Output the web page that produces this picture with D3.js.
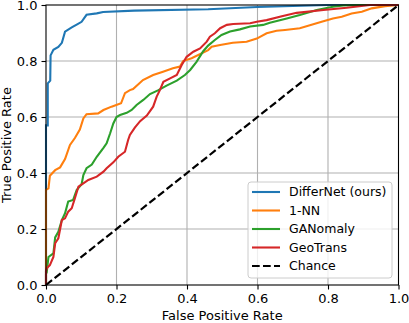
<!DOCTYPE html>
<html>
<head>
<meta charset="utf-8">
<script src="https://cdn.jsdelivr.net/npm/d3@7"></script>
<style>
body { margin: 0; background: white; }
text { font-family: "DejaVu Sans", sans-serif; }
</style>
</head>
<body>
<svg id="svg_roc" width="409" height="323"></svg>
<script>
// ROC points as [fpr, tpr]
var differnet = [[0,0],[0,0.57],[0.005,0.57],[0.005,0.72],[0.012,0.73],[0.013,0.82],[0.021,0.84],
	[0.035,0.85],[0.045,0.865],[0.054,0.905],[0.073,0.92],[0.087,0.93],[0.101,0.94],[0.115,0.965],
	[0.144,0.97],[0.162,0.975],[0.25,0.98],[0.46,0.985],[0.6,0.993],[0.8,1],[1,1]];

var oneNN = [[0,0],[0,0.34],[0.007,0.345],[0.011,0.39],[0.026,0.41],[0.04,0.42],[0.054,0.45],
	[0.068,0.5],[0.082,0.525],[0.096,0.555],[0.106,0.595],[0.115,0.61],[0.148,0.613],[0.163,0.625],
	[0.186,0.637],[0.213,0.649],[0.224,0.685],[0.238,0.696],[0.247,0.7],[0.275,0.732],[0.304,0.75],
	[0.332,0.762],[0.36,0.774],[0.38,0.78],[0.389,0.8],[0.413,0.81],[0.46,0.839],[0.47,0.851],
	[0.494,0.857],[0.53,0.865],[0.569,0.869],[0.598,0.88],[0.626,0.899],[0.654,0.908],[0.678,0.911],
	[0.72,0.917],[0.782,0.94],[0.814,0.952],[0.839,0.958],[0.867,0.97],[0.896,0.976],[0.924,0.988],
	[0.962,0.996],[1,1]];

var ganomaly = [[0,0],[0,0.04],[0.002,0.045],[0.007,0.1],[0.021,0.113],[0.026,0.17],[0.035,0.19],
	[0.045,0.232],[0.054,0.256],[0.063,0.298],[0.077,0.304],[0.087,0.339],[0.101,0.36],[0.106,0.393],
	[0.115,0.417],[0.13,0.43],[0.144,0.458],[0.163,0.49],[0.172,0.506],[0.182,0.542],[0.191,0.577],
	[0.2,0.6],[0.21,0.607],[0.229,0.615],[0.243,0.625],[0.257,0.643],[0.276,0.661],[0.295,0.682],
	[0.319,0.696],[0.342,0.712],[0.371,0.73],[0.394,0.75],[0.409,0.768],[0.427,0.797],[0.446,0.835],
	[0.46,0.855],[0.479,0.875],[0.498,0.893],[0.522,0.905],[0.55,0.913],[0.579,0.923],[0.616,0.929],
	[0.635,0.937],[0.683,0.952],[0.72,0.964],[0.768,0.982],[0.814,0.994],[0.843,0.998],[0.9,1],[1,1]];

var geotrans = [[0,0],[0,0.05],[0.002,0.06],[0.011,0.071],[0.021,0.1],[0.026,0.149],[0.035,0.167],
	[0.045,0.232],[0.054,0.238],[0.063,0.262],[0.073,0.274],[0.082,0.31],[0.092,0.351],[0.106,0.363],
	[0.12,0.375],[0.144,0.387],[0.163,0.405],[0.172,0.417],[0.191,0.438],[0.205,0.458],[0.224,0.476],
	[0.233,0.518],[0.238,0.536],[0.252,0.562],[0.267,0.585],[0.286,0.605],[0.304,0.637],[0.314,0.673],
	[0.323,0.696],[0.333,0.726],[0.352,0.738],[0.371,0.75],[0.385,0.786],[0.399,0.815],[0.418,0.833],
	[0.437,0.845],[0.456,0.869],[0.465,0.887],[0.479,0.899],[0.494,0.917],[0.513,0.929],[0.531,0.932],
	[0.579,0.935],[0.598,0.94],[0.626,0.946],[0.669,0.96],[0.711,0.972],[0.787,0.982],[0.853,0.99],
	[0.919,1],[1,1]];

var chance = [[0,0],[1,1]];

var seriesNames = ["DifferNet (ours)", "1-NN", "GANomaly", "GeoTrans", "Chance"];
var seriesColors = ["#1f77b4", "#ff7f0e", "#2ca02c", "#d62728", "black"];
var tickValues = [0, 0.2, 0.4, 0.6, 0.8, 1.0];

var svg = d3.select("#svg_roc");
var margin = {top: 5, right: 10.5, bottom: 38, left: 46};
var innerWidth = +svg.attr("width") - margin.left - margin.right;
var innerHeight = +svg.attr("height") - margin.top - margin.bottom;

var g = svg.append("g")
	.attr("transform", "translate(" + margin.left + "," + margin.top + ")");

var x = d3.scaleLinear().domain([0, 1]).range([0, innerWidth]);
var y = d3.scaleLinear().domain([0, 1]).range([innerHeight, 0]);

// grid
g.append("g")
	.selectAll("line")
	.data(tickValues.slice(1, -1))
	.enter().append("line")
	.attr("x1", d => x(d)).attr("x2", d => x(d))
	.attr("y1", 0).attr("y2", innerHeight)
	.attr("stroke", "#b0b0b0").attr("stroke-width", 1.1);

g.append("g")
	.selectAll("line")
	.data(tickValues.slice(1, -1))
	.enter().append("line")
	.attr("y1", d => y(d)).attr("y2", d => y(d))
	.attr("x1", 0).attr("x2", innerWidth)
	.attr("stroke", "#b0b0b0").attr("stroke-width", 1.1);

var line = d3.line()
	.x(d => x(d[0]))
	.y(d => y(d[1]));

var allSeries = [differnet, oneNN, ganomaly, geotrans, chance];

var clip = svg.append("defs").append("clipPath").attr("id", "clip")
	.append("rect")
	.attr("x", -2).attr("y", -2)
	.attr("width", innerWidth + 4).attr("height", innerHeight + 4);

g.append("g")
	.attr("clip-path", "url(#clip)")
	.selectAll("path")
	.data(allSeries)
	.enter().append("path")
	.attr("d", d => line(d))
	.attr("fill", "none")
	.attr("stroke", (d, i) => seriesColors[i])
	.attr("stroke-width", (d, i) => i == 4 ? 2.2 : 2.1)
	.attr("stroke-dasharray", (d, i) => i == 4 ? "7.7,3.3" : null)
	.attr("stroke-linejoin", "miter");

// frame
g.append("rect")
	.attr("width", innerWidth).attr("height", innerHeight)
	.attr("fill", "none").attr("stroke", "black").attr("stroke-width", 1.1);

var fmt = d3.format(".1f");

var xAxis = g.append("g")
	.attr("transform", "translate(0," + innerHeight + ")")
	.call(d3.axisBottom(x).tickValues(tickValues).tickFormat(fmt).tickSize(4.5).tickPadding(4));

var yAxis = g.append("g")
	.call(d3.axisLeft(y).tickValues(tickValues).tickFormat(fmt).tickSize(4.5).tickPadding(4));

[xAxis, yAxis].forEach(function(a) {
	a.select(".domain").remove();
	a.selectAll(".tick line").attr("stroke", "black").attr("stroke-width", 1.1);
	a.selectAll(".tick text")
		.attr("fill", "black")
		.style("font-family", "DejaVu Sans")
		.style("font-size", "13px");
});

g.append("text")
	.attr("x", innerWidth / 2)
	.attr("y", innerHeight + 35)
	.attr("text-anchor", "middle")
	.style("font-size", "13px")
	.text("False Positive Rate");

g.append("text")
	.attr("transform", "rotate(-90)")
	.attr("x", -innerHeight / 2)
	.attr("y", -35)
	.attr("text-anchor", "middle")
	.style("font-size", "13px")
	.text("True Positive Rate");

// legend
var legend = svg.append("g").attr("transform", "translate(248,182)");

legend.append("rect")
	.attr("width", 144).attr("height", 96)
	.attr("rx", 3)
	.attr("fill", "white").attr("fill-opacity", 0.8)
	.attr("stroke", "#cccccc").attr("stroke-width", 1);

var items = legend.selectAll(".item")
	.data(seriesNames)
	.enter().append("g")
	.attr("class", "item")
	.attr("transform", (d, i) => "translate(0," + (10 + i * 18.5) + ")");

items.append("line")
	.attr("x1", 4).attr("x2", 32)
	.attr("stroke", (d, i) => seriesColors[i])
	.attr("stroke-width", 2.1)
	.attr("stroke-dasharray", (d, i) => i == 4 ? "7.7,3.3" : null);

items.append("text")
	.attr("x", 41)
	.attr("dy", "0.35em")
	.style("font-size", "12.5px")
	.text(d => d);
</script>
</body>
</html>
